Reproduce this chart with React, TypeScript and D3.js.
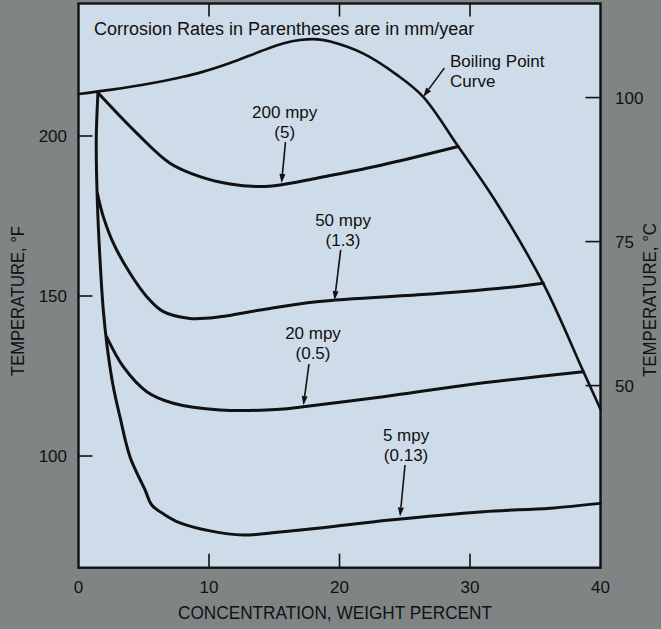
import React from 'react';
import * as d3 from 'd3';

const W = 661;
const H = 629;

// axis ticks
const xTicks = [0, 10, 20, 30, 40];
const xInnerTicks = [10, 20, 30];
const fTicks = [100, 150, 200];
const cTicks = [50, 75, 100];

// curves: [concentration wt%, temperature °F]
const boilingCurve: [number, number][] = [
  [0, 213.1], [2.41, 214.4], [5.48, 216.4], [7.78, 218.3], [9.31, 219.8], [11.61, 222.8],
  [13.91, 226.4], [15.67, 228.9], [16.97, 230], [18.35, 230.2], [19.3, 229.5], [21.8, 225.8],
  [24.4, 219.1], [26.4, 212.3], [29.1, 196.7], [31.9, 180], [35.6, 154], [38.7, 126.3], [40, 114.6],
];
const mpy200: [number, number][] = [
  [1.49, 213.5], [4.46, 200.9], [7.01, 191.5], [9.31, 187.3], [11.61, 185], [13.91, 184.2],
  [15.44, 184.7], [18.25, 186.8], [22.08, 189.9], [25.92, 193.5], [29.1, 196.7],
];
const mpy50: [number, number][] = [
  [1.45, 182], [1.9, 174.8], [2.67, 166.5], [3.95, 157.1], [5.23, 149.8], [6.5, 145.1],
  [8.54, 143], [10.84, 143.5], [13.91, 145.6], [18.25, 148.2], [26.93, 150.6], [32.3, 152.4],
  [35.62, 154],
];
const mpy20: [number, number][] = [
  [2.16, 137.2], [3.43, 127.9], [5.23, 120.1], [7.26, 116.5], [10.84, 114.4], [15.44, 114.6],
  [17.23, 115.4], [23.36, 118.5], [29.75, 122.2], [38.68, 126.3],
];
const mpy5: [number, number][] = [
  [1.49, 213.5], [1.36, 198.75], [1.44, 180], [1.65, 161.25], [1.9, 145.6], [2.18, 134.7],
  [2.64, 122.2], [3.18, 112.2], [3.95, 99.7], [5.1, 89.4], [5.61, 84.7], [6.63, 81.6],
  [7.78, 79.1], [10.08, 76.6], [12.6, 75.3], [15.44, 76.25], [18.5, 77.5], [23.87, 80],
  [31, 82.6], [36.13, 83.7], [40, 85.2],
];

const curves = [boilingCurve, mpy200, mpy50, mpy20, mpy5];

// labels with arrows: text centre (tx, ty), arrow tail (x1, y1) -> head (x2, y2)
const rateLabels = [
  { lines: ['200 mpy', '(5)'], tx: 15.8, ty: 207.2, x1: 15.86, y1: 198.1, x2: 15.56, y2: 185.3 },
  { lines: ['50 mpy', '(1.3)'], tx: 20.27, ty: 173.4, x1: 20.09, y1: 164.4, x2: 19.62, y2: 148.75 },
  { lines: ['20 mpy', '(0.5)'], tx: 17.97, ty: 138.1, x1: 17.66, y1: 128.75, x2: 17.24, y2: 115.9 },
  { lines: ['5 mpy', '(0.13)'], tx: 25.1, ty: 106.25, x1: 25.02, y1: 97.2, x2: 24.64, y2: 81.1 },
];
const boilingLabel = { lines: ['Boiling Point', 'Curve'], tx: 28.47, ty: 223.1, x1: 28.03, y1: 221.2, x2: 26.42, y2: 212.3 };
const titleText = 'Corrosion Rates in Parentheses are in mm/year';
const titlePos = { x: 1.19, y: 233.4 };
const xTitle = 'CONCENTRATION, WEIGHT PERCENT';
const yTitleF = 'TEMPERATURE, °F';
const yTitleC = 'TEMPERATURE, °C';

const FONT = "'Liberation Sans', Arial, Helvetica, sans-serif";
const INK = '#111';

export default function App() {
  const x = d3.scaleLinear().domain([0, 40]).range([78.5, 600.5]);
  const y = d3.scaleLinear().domain([65.1, 241.4]).range([567.7, 3.5]);
  const yc = d3.scaleLinear()
    .domain([(65.1 - 32) / 1.8, (241.4 - 32) / 1.8])
    .range([567.7, 3.5]);

  const line = d3.line<[number, number]>()
    .x((d) => x(d[0]))
    .y((d) => y(d[1]))
    .curve(d3.curveCatmullRom.alpha(0.5));

  const [x0, x1] = x.range();
  const [yb, yt] = y.range();

  const LBL = 17;
  const GAP = 19.3;

  const arrow = (a: { x1: number; y1: number; x2: number; y2: number }, key: string) => {
    const sx = x(a.x1), sy = y(a.y1), ex = x(a.x2), ey = y(a.y2);
    const ang = Math.atan2(ey - sy, ex - sx);
    const L = 9, Wd = 3;
    const bx = ex - L * Math.cos(ang), by = ey - L * Math.sin(ang);
    const px = -Math.sin(ang) * Wd, py = Math.cos(ang) * Wd;
    return (
      <g key={key}>
        <line x1={sx} y1={sy} x2={bx} y2={by} stroke={INK} strokeWidth={1.6} />
        <path d={`M${ex},${ey}L${bx + px},${by + py}L${bx - px},${by - py}Z`} fill={INK} />
      </g>
    );
  };

  return (
    <svg width={W} height={H} style={{ position: 'absolute', left: 0, top: 0 }} fontFamily={FONT}>
      <rect x={0} y={0} width={W} height={H} fill="#7f8585" />
      <rect x={x0} y={yt} width={x1 - x0} height={yb - yt} fill="#cedbe8" />

      {/* curves */}
      {curves.map((c, i) => (
        <path key={i} d={line(c) || ''} fill="none" stroke={INK} strokeWidth={i === 0 ? 2.6 : 3} strokeLinejoin="round" strokeLinecap="round" />
      ))}

      {/* frame */}
      <rect x={x0} y={yt} width={x1 - x0} height={yb - yt} fill="none" stroke={INK} strokeWidth={2.4} />

      {/* ticks */}
      {xInnerTicks.map((t) => (
        <g key={'xt' + t}>
          <line x1={x(t)} x2={x(t)} y1={yb} y2={yb - 14} stroke={INK} strokeWidth={1.6} />
          <line x1={x(t)} x2={x(t)} y1={yt} y2={yt + 13} stroke={INK} strokeWidth={1.6} />
        </g>
      ))}
      {fTicks.map((t) => (
        <line key={'ft' + t} x1={x0} x2={x0 + 14} y1={y(t)} y2={y(t)} stroke={INK} strokeWidth={1.6} />
      ))}
      {cTicks.map((t) => (
        <line key={'ct' + t} x1={x1} x2={x1 - 15} y1={yc(t)} y2={yc(t)} stroke={INK} strokeWidth={1.6} />
      ))}

      {/* tick labels */}
      {xTicks.map((t) => (
        <text key={'xl' + t} x={x(t)} y={587} dy="0.35em" textAnchor="middle" fontSize={17} fill={INK}>{t}</text>
      ))}
      {fTicks.map((t) => (
        <text key={'fl' + t} x={67} y={y(t)} dy="0.35em" textAnchor="end" fontSize={17} fill={INK}>{t}</text>
      ))}
      {cTicks.map((t) => (
        <text key={'cl' + t} x={615} y={yc(t)} dy="0.35em" textAnchor="start" fontSize={17} fill={INK}>{t}</text>
      ))}

      {/* axis titles */}
      <text x={335} y={613} dy="0.35em" textAnchor="middle" fontSize={18} fill={INK} textLength={314} lengthAdjust="spacingAndGlyphs">{xTitle}</text>
      <text transform={`translate(18,301) rotate(-90)`} dy="0.35em" textAnchor="middle" fontSize={18} fill={INK} textLength={150} lengthAdjust="spacingAndGlyphs">{yTitleF}</text>
      <text transform={`translate(650,300) rotate(-90)`} dy="0.35em" textAnchor="middle" fontSize={18} fill={INK} textLength={154} lengthAdjust="spacingAndGlyphs">{yTitleC}</text>

      {/* title */}
      <text x={x(titlePos.x)} y={y(titlePos.y)} dy="0.35em" fontSize={18} fill={INK}>{titleText}</text>

      {/* rate labels */}
      {rateLabels.map((a, i) => (
        <g key={'rl' + i}>
          {a.lines.map((s, j) => (
            <text key={j} x={x(a.tx)} y={y(a.ty) - 0.6 + j * GAP} dy="0.35em" textAnchor="middle" fontSize={LBL} fill={INK}>{s}</text>
          ))}
          {arrow(a, 'ra' + i)}
        </g>
      ))}

      {/* boiling point label */}
      {boilingLabel.lines.map((s, j) => (
        <text key={'bl' + j} x={x(boilingLabel.tx)} y={y(boilingLabel.ty) - 0.8 + j * GAP} dy="0.35em" textAnchor="start" fontSize={LBL} fill={INK}>{s}</text>
      ))}
      {arrow(boilingLabel, 'ba')}
    </svg>
  );
}
